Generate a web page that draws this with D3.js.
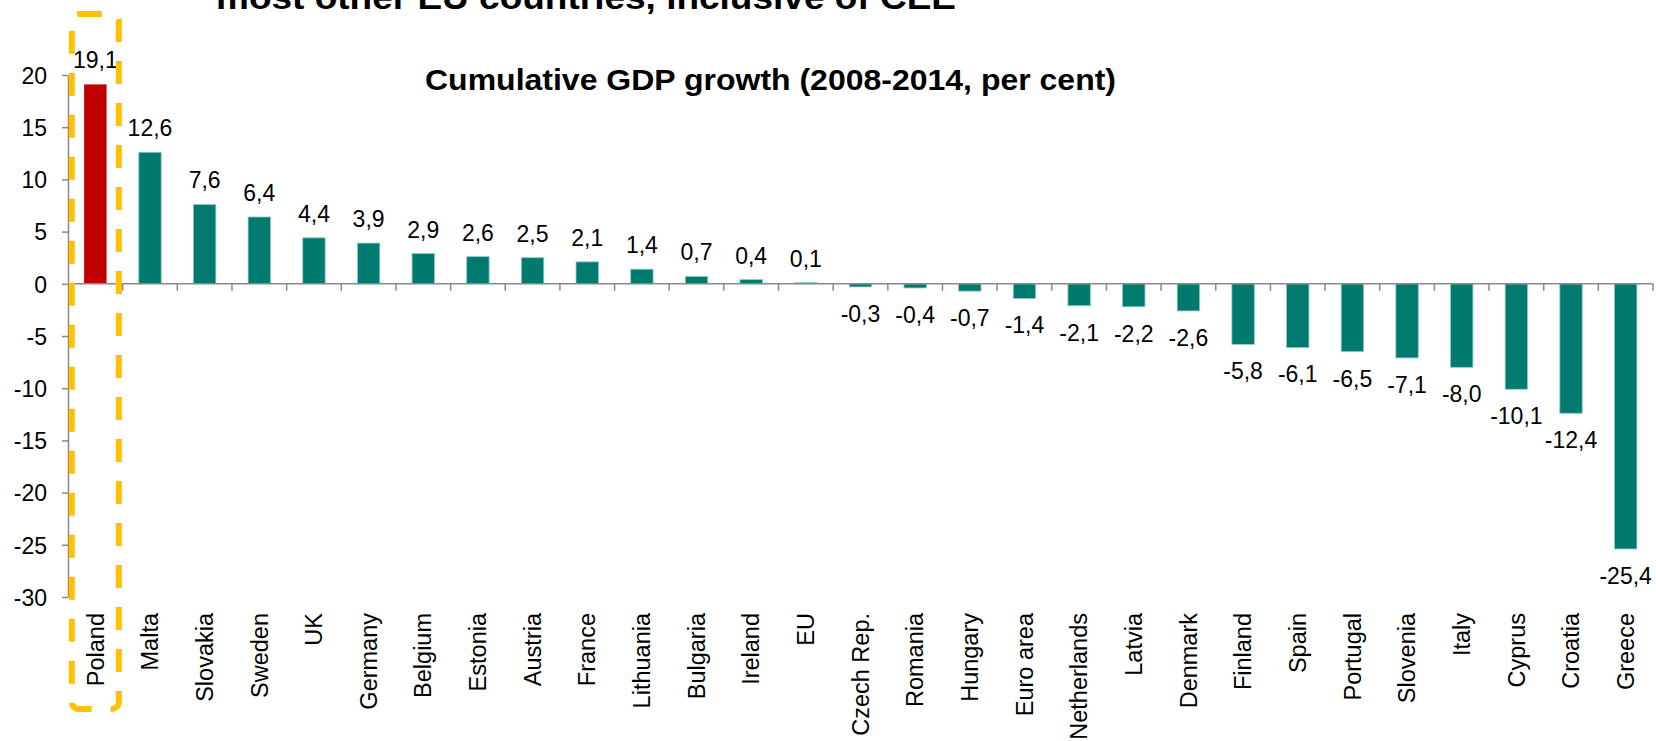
<!DOCTYPE html>
<html>
<head>
<meta charset="utf-8">
<script src="https://cdn.jsdelivr.net/npm/d3@7"></script>
<style>
  body { margin: 0; background: #fff; }
  svg { display: block; font-family: "Liberation Sans", Arial, sans-serif; }
  .axis path, .axis line { stroke: #898989; stroke-width: 1.5; }
  .axis text { font-size: 23px; fill: #000; font-family: "Liberation Sans", Arial, sans-serif; }
</style>
</head>
<body>
<div id="chart"></div>
<script>
// data
var categories = ["Poland", "Malta", "Slovakia", "Sweden", "UK", "Germany", "Belgium", "Estonia",
  "Austria", "France", "Lithuania", "Bulgaria", "Ireland", "EU", "Czech Rep.", "Romania", "Hungary",
  "Euro area", "Netherlands", "Latvia", "Denmark", "Finland", "Spain", "Portugal", "Slovenia", "Italy",
  "Cyprus", "Croatia", "Greece"];
var growth = [19.1, 12.6, 7.6, 6.4, 4.4, 3.9, 2.9, 2.6, 2.5, 2.1, 1.4, 0.7, 0.4, 0.1, -0.3, -0.4, -0.7,
  -1.4, -2.1, -2.2, -2.6, -5.8, -6.1, -6.5, -7.1, -8.0, -10.1, -12.4, -25.4];
var yTicks = [-30, -25, -20, -15, -10, -5, 0, 5, 10, 15, 20];
var highlight = "Poland";

var width = 1656, height = 741;
var plotLeft = 68, plotRight = 1653, plotTop = 75, plotBottom = 597;

var svg = d3.select("#chart").append("svg")
  .attr("width", width)
  .attr("height", height);

// titles (the first one is cut off at the top, as in the source slide)
svg.append("text")
  .attr("x", 216).attr("y", 9)
  .attr("textLength", 740).attr("lengthAdjust", "spacingAndGlyphs")
  .style("font-size", "34px").style("font-weight", "bold")
  .text("most other EU countries, inclusive of CEE");

svg.append("text")
  .attr("x", 425).attr("y", 90)
  .attr("textLength", 691).attr("lengthAdjust", "spacingAndGlyphs")
  .style("font-size", "30px").style("font-weight", "bold")
  .text("Cumulative GDP growth (2008-2014, per cent)");

var x = d3.scaleBand()
  .domain(categories)
  .range([plotLeft, plotRight])
  .paddingInner(0.59)
  .paddingOuter(0.295);

var y = d3.scaleLinear()
  .domain([-30, 20])
  .range([plotBottom, plotTop]);

// comma decimals, plain hyphen for minus
var fmt = function (v) { return (v < 0 ? "-" : "") + d3.format(".1f")(Math.abs(v)).replace(".", ","); };
var fmtTick = function (v) { return (v < 0 ? "-" : "") + Math.abs(v); };

// bars
svg.selectAll("rect.bar")
  .data(growth)
  .enter()
  .append("rect")
  .attr("class", "bar")
  .attr("x", function (d, i) { return x(categories[i]); })
  .attr("width", x.bandwidth())
  .attr("y", function (d) { return y(Math.max(0, d)); })
  .attr("height", function (d) { return Math.abs(y(d) - y(0)); })
  .attr("fill", function (d, i) { return categories[i] === highlight ? "#C00000" : "#007A6E"; })
  .attr("stroke", function (d, i) { return categories[i] === highlight ? "none" : "#8FCBC3"; })
  .attr("stroke-width", 0.8);

// y axis
svg.append("g")
  .attr("class", "axis")
  .attr("transform", "translate(" + plotLeft + ",0)")
  .call(d3.axisLeft(y).tickValues(yTicks).tickSize(6).tickSizeOuter(0).tickPadding(15)
    .tickFormat(fmtTick))
  .call(function (g) { g.selectAll("text").attr("dy", "0.36em"); });

// x axis line + boundary ticks
var step = x.step();
var bounds = d3.range(1, categories.length + 1).map(function (k) {
  return x(categories[k - 1]) + x.bandwidth() / 2 + step / 2;
});
var xAxisG = svg.append("g").attr("class", "axis");
xAxisG.append("line")
  .attr("x1", plotLeft).attr("x2", plotRight)
  .attr("y1", y(0)).attr("y2", y(0));
xAxisG.selectAll("line.tk")
  .data(bounds)
  .enter()
  .append("line")
  .attr("class", "tk")
  .attr("x1", function (d) { return d; })
  .attr("x2", function (d) { return d; })
  .attr("y1", y(0)).attr("y2", y(0) + 7);

// category labels
svg.selectAll("text.cat")
  .data(categories)
  .enter()
  .append("text")
  .attr("class", "cat")
  .attr("transform", function (d) {
    return "translate(" + (x(d) + x.bandwidth() / 2) + ",613) rotate(-90)";
  })
  .attr("dy", "0.35em")
  .attr("text-anchor", "end")
  .style("font-size", "23.5px")
  .text(function (d) { return d; });

// value labels
svg.selectAll("text.val")
  .data(growth)
  .enter()
  .append("text")
  .attr("class", "val")
  .attr("x", function (d, i) { return x(categories[i]) + x.bandwidth() / 2; })
  .attr("y", function (d) { return d >= 0 ? y(d) - 16 : y(d) + 35; })
  .attr("text-anchor", "middle")
  .style("font-size", "23px")
  .text(function (d) { return fmt(d); });

// dashed highlight box round Poland
var cx = x(highlight) + x.bandwidth() / 2;
svg.append("rect")
  .attr("x", cx - 23.5).attr("y", 14)
  .attr("width", 47).attr("height", 695)
  .attr("rx", 7)
  .attr("fill", "none")
  .attr("stroke", "#FFC000")
  .attr("stroke-width", 6)
  .attr("stroke-dasharray", "23,19");
</script>
</body>
</html>
